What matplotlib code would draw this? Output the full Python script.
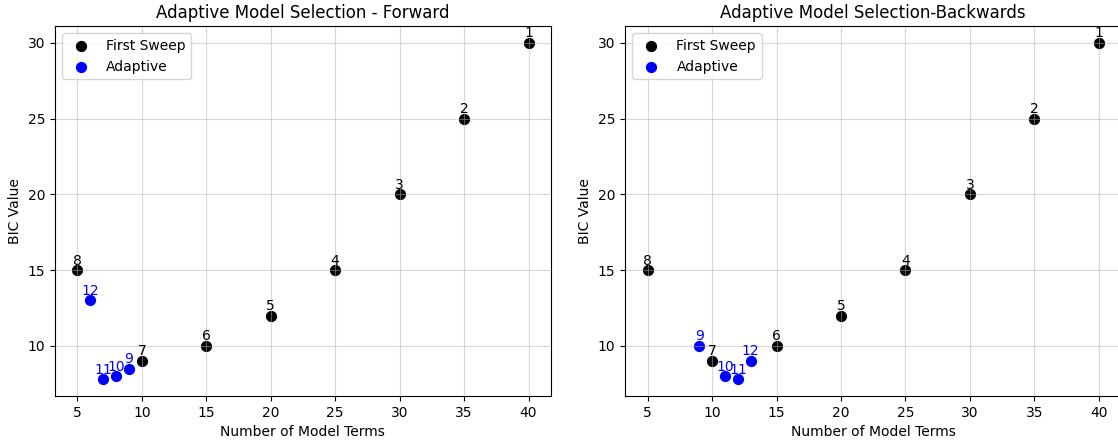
import numpy as np
import matplotlib.pyplot as plt

# first sweep (shared by both directions)
sweep_x = [40, 35, 30, 25, 20, 15, 10, 5]
sweep_y = [30, 25, 20, 15, 12, 10, 9, 15]
sweep_lbl = ['1', '2', '3', '4', '5', '6', '7', '8']

# adaptive points
fwd_x = [9, 8, 7, 6]
fwd_y = [8.5, 8.0, 7.8, 13]
bwd_x = [9, 11, 12, 13]
bwd_y = [10, 8.0, 7.8, 9]
adapt_lbl = ['9', '10', '11', '12']

titles = ['Adaptive Model Selection - Forward', 'Adaptive Model Selection-Backwards']

fig, axes = plt.subplots(1, 2, figsize=(11.18, 4.43), dpi=100)
fig.subplots_adjust(left=0.049, right=1.003, top=0.941, bottom=0.106, wspace=0.149)

for ax, title, ax_x, ax_y in zip(axes, titles, [fwd_x, bwd_x], [fwd_y, bwd_y]):
    ax.scatter(sweep_x, sweep_y, color='black', s=50, label='First Sweep')
    ax.scatter(ax_x, ax_y, color='blue', s=50, label='Adaptive')
    for x, y, t in zip(sweep_x, sweep_y, sweep_lbl):
        ax.annotate(t, (x, y), textcoords='offset points', xytext=(0, 4),
                    ha='center', color='black', fontsize=10)
    for x, y, t in zip(ax_x, ax_y, adapt_lbl):
        ax.annotate(t, (x, y), textcoords='offset points', xytext=(0, 4),
                    ha='center', color='blue', fontsize=10)
    ax.set_title(title, fontsize=12)
    ax.set_xlabel('Number of Model Terms')
    ax.set_ylabel('BIC Value')
    ax.grid(True, alpha=0.5)
    ax.legend(loc='upper left')

plt.savefig('out.png')
